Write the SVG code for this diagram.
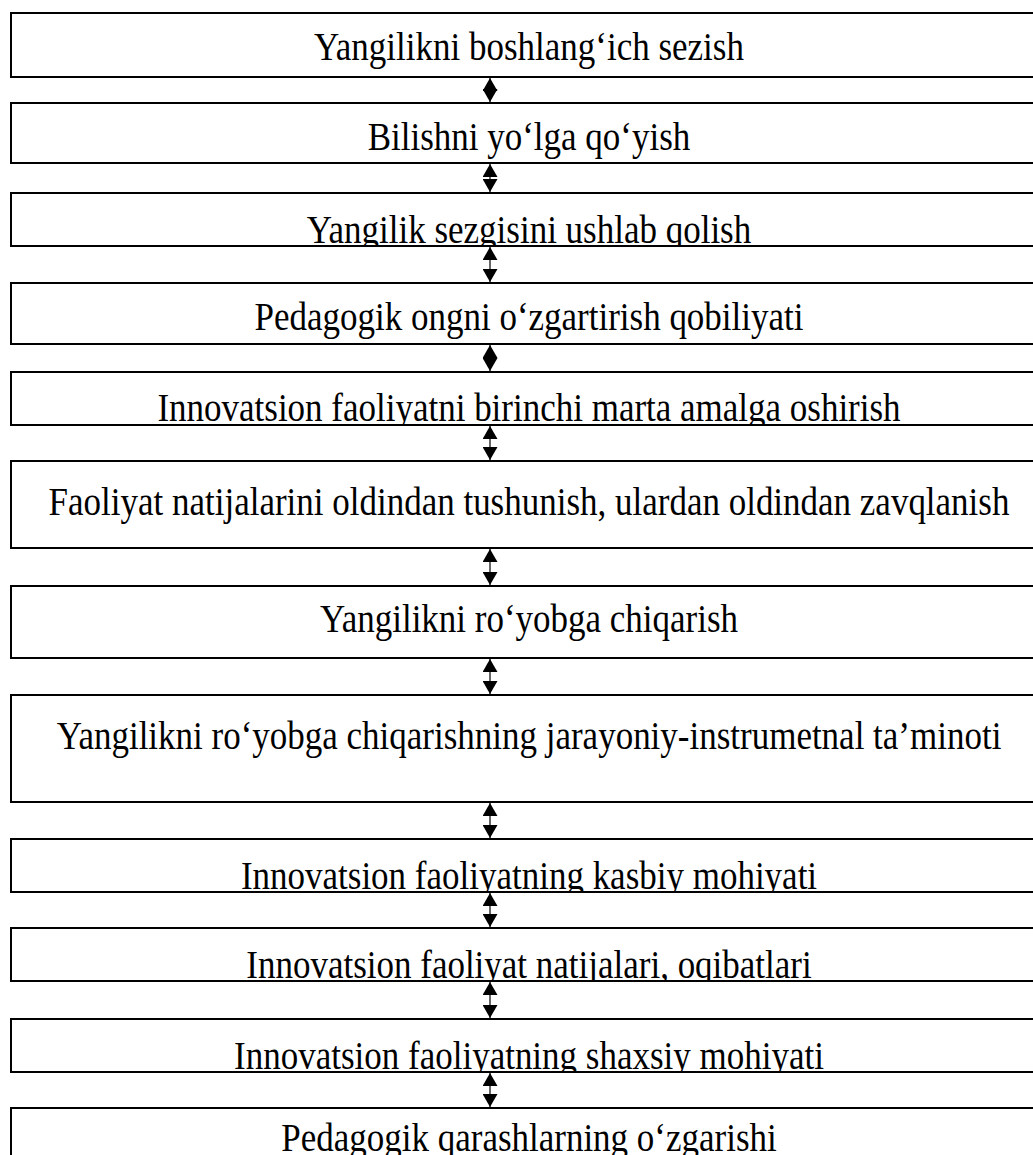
<svg xmlns="http://www.w3.org/2000/svg" width="1033" height="1155" viewBox="0 0 1033 1155">
  <style>
    .box { fill: #ffffff; stroke: #000000; stroke-width: 2; }
    .label { font-family: "Liberation Serif", "Times New Roman", serif; font-size: 35px; fill: #000000; text-anchor: middle; }
    .link { stroke: #000000; stroke-width: 1.2; fill: none; marker-start: url(#head-up); marker-end: url(#head-down); }
  </style>
  <defs>
    <marker id="head-down" viewBox="0 0 15 13" refX="7.5" refY="13" markerWidth="15" markerHeight="13" markerUnits="userSpaceOnUse">
      <path d="M0,0 L15,0 L7.5,13 Z" fill="#000000"/>
    </marker>
    <marker id="head-up" viewBox="0 0 15 13" refX="7.5" refY="0" markerWidth="15" markerHeight="13" markerUnits="userSpaceOnUse">
      <path d="M7.5,0 L15,13 L0,13 Z" fill="#000000"/>
    </marker>
    <clipPath id="c1"><rect x="12" y="14" width="1040" height="62"/></clipPath>
    <clipPath id="c2"><rect x="12" y="104" width="1040" height="58"/></clipPath>
    <clipPath id="c3"><rect x="12" y="194" width="1040" height="51"/></clipPath>
    <clipPath id="c4"><rect x="12" y="284" width="1040" height="59"/></clipPath>
    <clipPath id="c5"><rect x="12" y="373" width="1040" height="51"/></clipPath>
    <clipPath id="c6"><rect x="12" y="462" width="1040" height="85"/></clipPath>
    <clipPath id="c7"><rect x="12" y="587" width="1040" height="70"/></clipPath>
    <clipPath id="c8"><rect x="12" y="696" width="1040" height="105"/></clipPath>
    <clipPath id="c9"><rect x="12" y="840" width="1040" height="51"/></clipPath>
    <clipPath id="c10"><rect x="12" y="929" width="1040" height="51"/></clipPath>
    <clipPath id="c11"><rect x="12" y="1020" width="1040" height="51"/></clipPath>
    <clipPath id="c12"><rect x="12" y="1109" width="1040" height="60"/></clipPath>
  </defs>

  <!-- double-headed links between consecutive steps -->
  <g id="connectors">
    <line class="link" x1="490" y1="78" x2="490" y2="102"/>
    <line class="link" x1="490" y1="164" x2="490" y2="192"/>
    <line class="link" x1="490" y1="247" x2="490" y2="282"/>
    <line class="link" x1="490" y1="345" x2="490" y2="371"/>
    <line class="link" x1="490" y1="426" x2="490" y2="460"/>
    <line class="link" x1="490" y1="549" x2="490" y2="585"/>
    <line class="link" x1="490" y1="659" x2="490" y2="694"/>
    <line class="link" x1="490" y1="803" x2="490" y2="838"/>
    <line class="link" x1="490" y1="893" x2="490" y2="927"/>
    <line class="link" x1="490" y1="982" x2="490" y2="1018"/>
    <line class="link" x1="490" y1="1073" x2="490" y2="1107"/>
  </g>

  <g id="step1">
    <rect class="box" x="11" y="13" width="1042" height="64"/>
    <g clip-path="url(#c1)"><text class="label" transform="translate(529,60) scale(1,1.12)">Yangilikni boshlang‘ich sezish</text></g>
  </g>
  <g id="step2">
    <rect class="box" x="11" y="103" width="1042" height="60"/>
    <g clip-path="url(#c2)"><text class="label" transform="translate(529,150) scale(1,1.12)">Bilishni yo‘lga qo‘yish</text></g>
  </g>
  <g id="step3">
    <rect class="box" x="11" y="193" width="1042" height="53"/>
    <g clip-path="url(#c3)"><text class="label" transform="translate(529,243) scale(1,1.12)">Yangilik sezgisini ushlab qolish</text></g>
  </g>
  <g id="step4">
    <rect class="box" x="11" y="283" width="1042" height="61"/>
    <g clip-path="url(#c4)"><text class="label" transform="translate(529,330) scale(1,1.12)">Pedagogik ongni o‘zgartirish qobiliyati</text></g>
  </g>
  <g id="step5">
    <rect class="box" x="11" y="372" width="1042" height="53"/>
    <g clip-path="url(#c5)"><text class="label" transform="translate(529,421) scale(1,1.12)">Innovatsion faoliyatni birinchi marta amalga oshirish</text></g>
  </g>
  <g id="step6">
    <rect class="box" x="11" y="461" width="1042" height="87"/>
    <g clip-path="url(#c6)"><text class="label" transform="translate(529,515) scale(1,1.12)">Faoliyat natijalarini oldindan tushunish, ulardan oldindan zavqlanish</text></g>
  </g>
  <g id="step7">
    <rect class="box" x="11" y="586" width="1042" height="72"/>
    <g clip-path="url(#c7)"><text class="label" transform="translate(529,632) scale(1,1.12)">Yangilikni ro‘yobga chiqarish</text></g>
  </g>
  <g id="step8">
    <rect class="box" x="11" y="695" width="1042" height="107"/>
    <g clip-path="url(#c8)"><text class="label" transform="translate(529,749) scale(1,1.12)">Yangilikni ro‘yobga chiqarishning jarayoniy-instrumetnal ta’minoti</text></g>
  </g>
  <g id="step9">
    <rect class="box" x="11" y="839" width="1042" height="53"/>
    <g clip-path="url(#c9)"><text class="label" transform="translate(529,889) scale(1,1.12)">Innovatsion faoliyatning kasbiy mohiyati</text></g>
  </g>
  <g id="step10">
    <rect class="box" x="11" y="928" width="1042" height="53"/>
    <g clip-path="url(#c10)"><text class="label" transform="translate(529,978) scale(1,1.12)">Innovatsion faoliyat natijalari, oqibatlari</text></g>
  </g>
  <g id="step11">
    <rect class="box" x="11" y="1019" width="1042" height="53"/>
    <g clip-path="url(#c11)"><text class="label" transform="translate(529,1069) scale(1,1.12)">Innovatsion faoliyatning shaxsiy mohiyati</text></g>
  </g>
  <g id="step12">
    <rect class="box" x="11" y="1108" width="1042" height="60"/>
    <g clip-path="url(#c12)"><text class="label" transform="translate(529,1151) scale(1,1.12)">Pedagogik qarashlarning o‘zgarishi</text></g>
  </g>
</svg>
